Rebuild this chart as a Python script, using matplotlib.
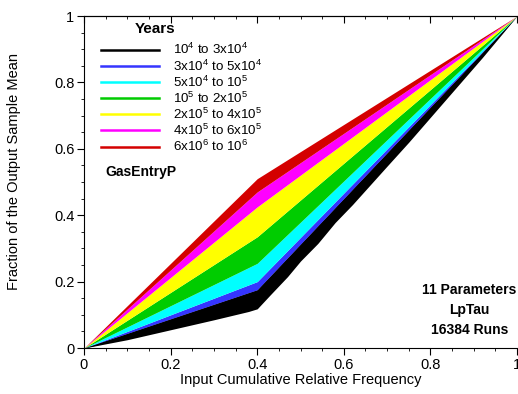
import matplotlib
matplotlib.use("Agg")
import matplotlib.pyplot as plt
import numpy as np
from matplotlib.ticker import MultipleLocator

plt.rcParams['font.family'] = ['Liberation Sans', 'DejaVu Sans']
plt.rcParams['mathtext.default'] = 'regular'

# boundary curves (kink near x = 0.4)
xs = [0.0, 0.4, 1.0]
black_low = [0.0, 0.125, 1.0]
black_blue = [0.0, 0.175, 1.0]
blue_cyan = [0.0, 0.20, 1.0]
cyan_green = [0.0, 0.255, 1.0]
green_yellow = [0.0, 0.335, 1.0]
yellow_mag = [0.0, 0.425, 1.0]
mag_red = [0.0, 0.47, 1.0]
red_top = [0.0, 0.51, 1.0]

# ragged lower edge of the black band
jag_x = [0.0, 0.1, 0.2, 0.3, 0.38, 0.4, 0.43, 0.47, 0.5, 0.54, 0.58, 0.62, 0.66, 0.7, 0.75, 0.8, 0.86, 0.92, 1.0]
jag_y = [0.0, 0.025, 0.055, 0.085, 0.11, 0.118, 0.16, 0.215, 0.262, 0.315, 0.378, 0.432, 0.49, 0.548, 0.62, 0.695, 0.785, 0.875, 1.0]

labels = ['10$^4$ to 3x10$^4$', '3x10$^4$ to 5x10$^4$', '5x10$^4$ to 10$^5$',
          '10$^5$ to 2x10$^5$', '2x10$^5$ to 4x10$^5$', '4x10$^5$ to 6x10$^5$',
          '6x10$^6$ to 10$^6$']
colors = ['#000000', '#3535ff', '#00ffff', '#00cc00', '#ffff00', '#ff00ff', '#d40000']
edges = [black_low, black_blue, blue_cyan, cyan_green, green_yellow, yellow_mag, mag_red, red_top]

fig = plt.figure(figsize=(5.18, 3.94), dpi=100)
ax = fig.add_axes([84/518, 46/394, 433/518, 332/394])

grid = np.linspace(0, 1, 201)
for i, c in enumerate(colors):
    lo = np.interp(grid, xs, edges[i])
    hi = np.interp(grid, xs, edges[i + 1])
    ax.fill_between(grid, lo, hi, color=c, lw=0)
ax.fill_between(jag_x, jag_y, np.interp(jag_x, xs, black_blue), color='black', lw=0)

for lab, c in zip(labels, colors):
    ax.plot([], [], color=c, lw=1.8, label=lab)

leg = ax.legend(loc='upper left', bbox_to_anchor=(0.02, 0.945), frameon=False, fontsize=9.6,
                handlelength=4.4, handletextpad=1.0, labelspacing=0.07,
                borderaxespad=0.2)
ax.text(0.165, 0.96, 'Years', transform=ax.transAxes, fontsize=11, fontweight='bold',
        ha='center', va='center')

ax.text(0.05, 0.53, 'GasEntryP', transform=ax.transAxes, fontsize=10, fontweight='bold',
        va='center')
ax.text(0.89, 0.114, '11 Parameters\nLpTau\n16384 Runs', transform=ax.transAxes, fontsize=10,
        fontweight='bold', ha='center', va='center', linespacing=1.55)

ax.set_xlim(0, 1)
ax.set_ylim(0, 1)
ticks = [0, 0.2, 0.4, 0.6, 0.8, 1]
tick_labels = ['0', '0.2', '0.4', '0.6', '0.8', '1']
ax.set_xticks(ticks)
ax.set_xticklabels(tick_labels)
ax.set_yticks(ticks)
ax.set_yticklabels(tick_labels)
ax.xaxis.set_minor_locator(MultipleLocator(0.05))
ax.yaxis.set_minor_locator(MultipleLocator(0.05))
ax.tick_params(which='major', direction='out', length=5, width=0.8, labelsize=10.5, pad=2)
ax.tick_params(which='minor', direction='out', length=2.5, width=0.6)
ax.spines['right'].set_visible(False)

top = ax.secondary_xaxis('top')
top.set_xticks(ticks)
top.set_xticklabels([])
top.xaxis.set_minor_locator(MultipleLocator(0.05))
top.tick_params(which='major', direction='in', length=5, width=0.8)
top.tick_params(which='minor', direction='in', length=2.5, width=0.6)

ax.set_xlabel('Input Cumulative Relative Frequency', fontsize=10.5, labelpad=1)
ax.set_ylabel('Fraction of the Output Sample Mean', fontsize=10.5)
ax.yaxis.set_label_coords(-0.145, 0.533)

fig.savefig('out.png', dpi=100)
